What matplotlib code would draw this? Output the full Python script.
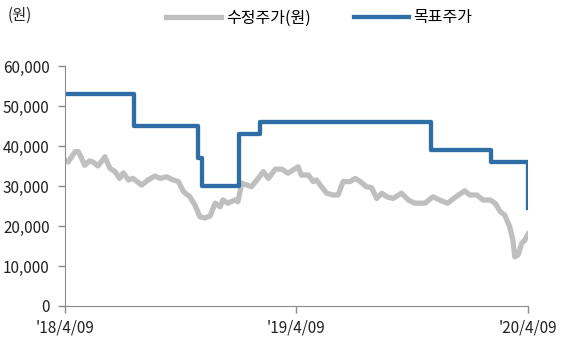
import numpy as np
import pandas as pd
import matplotlib
matplotlib.use('Agg')
import matplotlib.pyplot as plt
from matplotlib.ticker import FuncFormatter

plt.rcParams['font.family'] = ['Noto Sans CJK KR', 'DejaVu Sans']

# 수정주가 (adjusted price)
price_dates = [
    '2018-04-09', '2018-04-14', '2018-04-25', '2018-04-30', '2018-05-05', '2018-05-10',
    '2018-05-18', '2018-05-23', '2018-05-31', '2018-06-11', '2018-06-19', '2018-06-27',
    '2018-07-04', '2018-07-10', '2018-07-18', '2018-07-25', '2018-08-08', '2018-08-18',
    '2018-08-29', '2018-09-06', '2018-09-16', '2018-09-27', '2018-10-05', '2018-10-13',
    '2018-10-23', '2018-10-31', '2018-11-08', '2018-11-16', '2018-11-24', '2018-12-02',
    '2018-12-10', '2018-12-14', '2018-12-22', '2019-01-02', '2019-01-07', '2019-01-13',
    '2019-01-21', '2019-01-28', '2019-02-08', '2019-02-16', '2019-02-24', '2019-03-07',
    '2019-03-17', '2019-03-27', '2019-04-04', '2019-04-12', '2019-04-17', '2019-04-28',
    '2019-05-06', '2019-05-11', '2019-05-19', '2019-05-27', '2019-06-06', '2019-06-14',
    '2019-06-22', '2019-07-03', '2019-07-11', '2019-07-19', '2019-07-29', '2019-08-06',
    '2019-08-14', '2019-08-22', '2019-08-30', '2019-09-09', '2019-09-22', '2019-10-03',
    '2019-10-13', '2019-10-29', '2019-11-11', '2019-11-21', '2019-12-04', '2019-12-17',
    '2019-12-31', '2020-01-08', '2020-01-19', '2020-01-29', '2020-02-09', '2020-02-17',
    '2020-02-25', '2020-03-03', '2020-03-11', '2020-03-16', '2020-03-19', '2020-03-24',
    '2020-03-30', '2020-04-04', '2020-04-09',
]
price_values = [
    36500, 36000, 38600, 38600, 37000, 35200,
    36300, 36000, 35000, 37300, 34400, 33600,
    31900, 33300, 31500, 31900, 30250, 31500,
    32500, 31900, 32300, 31500, 31100, 28600,
    27300, 25250, 22300, 22000, 22500, 25700,
    24800, 26500, 25700, 26500, 26100, 30700,
    30250, 29800, 31900, 33600, 31900, 34200,
    34200, 33200, 34000, 34800, 32750, 32750,
    31100, 31500, 29800, 28200, 27750, 27750,
    31100, 31100, 31900, 31100, 29800, 29600,
    26900, 28200, 27300, 26900, 28200, 26500,
    25700, 25700, 27300, 26500, 25700, 27300,
    28800, 27750, 27750, 26500, 26500, 25700,
    23600, 22750, 19800, 16500, 12300, 12750,
    15700, 16500, 18000,
]

# 목표주가 (target price) change dates
target_dates = ['2018-04-09', '2018-07-27', '2018-11-05', '2018-11-11', '2019-01-09',
                '2019-02-11', '2019-11-08', '2020-02-10', '2020-04-09']
target_values = [53000, 45000, 37000, 30000, 43000, 46000, 39000, 36000, 24500]

tick_dates = ['2018-04-09', '2019-04-09', '2020-04-09']
tick_labels = ["'18/4/09", "'19/4/09", "'20/4/09"]

fig = plt.figure(figsize=(5.63, 3.38), dpi=100)
ax = fig.add_axes([0.1155, 0.0947, 0.8225, 0.71])

ax.plot(pd.to_datetime(price_dates), price_values, color='#BFBFBF', lw=3.8,
        solid_joinstyle='round', label='수정주가(원)')
ax.plot(pd.to_datetime(target_dates), target_values, color='#2E6DA6', lw=3.1,
        drawstyle='steps-post', label='목표주가')

ax.set_xlim(pd.Timestamp('2018-04-09'), pd.Timestamp('2020-04-09'))
ax.set_ylim(0, 60000)
ax.set_yticks(np.arange(0, 60001, 10000))
ax.yaxis.set_major_formatter(FuncFormatter(lambda v, p: f'{int(v):,}'))
ax.set_xticks(pd.to_datetime(tick_dates))
ax.set_xticklabels(tick_labels)

for s in ['top', 'right']:
    ax.spines[s].set_visible(False)
for s in ['left', 'bottom']:
    ax.spines[s].set_color('#8C8C8C')
ax.tick_params(axis='both', colors='#8C8C8C', labelcolor='#222222', labelsize=11,
               length=5, width=1)
ax.tick_params(axis='y', pad=6)
ax.tick_params(axis='x', pad=5)

fig.text(0.014, 0.955, '(원)', fontsize=11, color='#222222', va='center')
fig.legend(loc='center', bbox_to_anchor=(0.567, 0.947), ncol=2, frameon=False,
           fontsize=11.5, handlelength=3.45, columnspacing=2.7, handletextpad=0.3)

fig.savefig('out.png', dpi=100)
